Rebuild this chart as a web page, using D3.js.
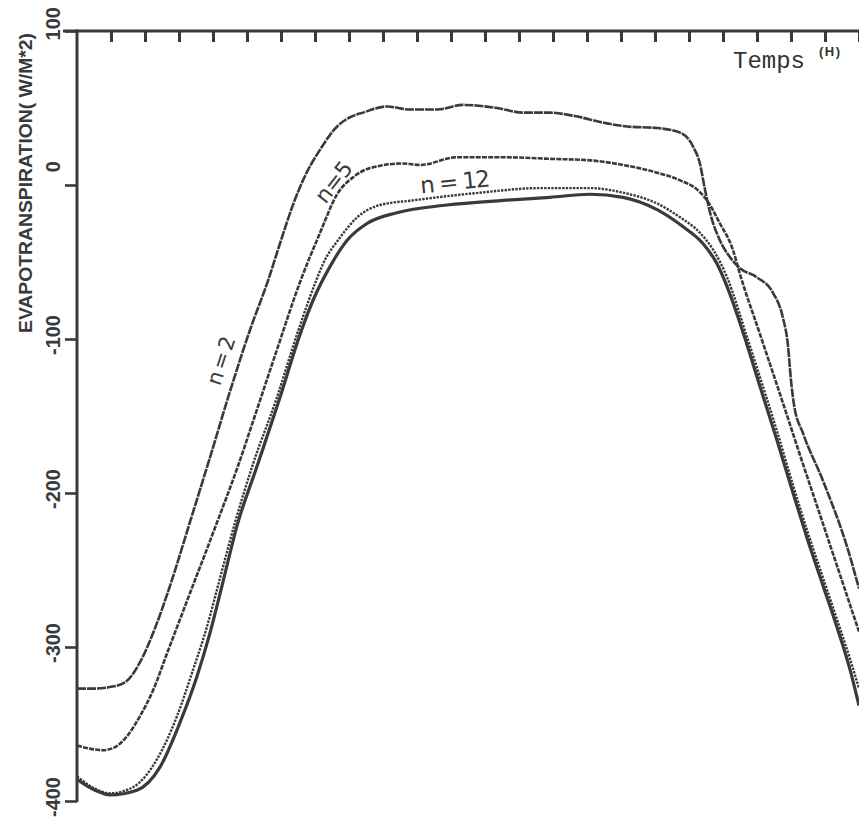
<!DOCTYPE html>
<html>
<head>
<meta charset="utf-8">
<script src="https://cdn.jsdelivr.net/npm/d3@7"></script>
<style>
  html, body { margin: 0; padding: 0; background: #ffffff; }
  svg { display: block; }
</style>
</head>
<body>
<svg id="chart" width="859" height="820"></svg>
<script>
// ---------------- DATA ----------------
const yTickValues = [100, 0, -100, -200, -300, -400];
const xTickValues = [1,2,3,4,5,6,7,8,9,10,11,12,13,14,15,16,17,18,19,20,21,22,23];
const yTitle = "EVAPOTRANSPIRATION( W/M*2)";
const xTitle = "Temps";
const xUnit = "(H)";

// n = 2
const n2Hours  = [0, 0.53, 0.97, 1.41, 1.85, 2.29, 2.74, 3.32, 3.91, 4.5, 5.09, 5.62, 5.97, 6.35, 6.71, 7.15, 7.65, 8.03, 8.41, 9.12, 9.79, 10.59, 11.35, 12.35, 13.12, 13.91, 14.59, 15.59, 16.18, 17.06, 17.74, 18.12, 18.32, 18.47, 18.62, 18.91, 19.21, 19.5, 20.0, 20.47, 20.76, 20.91, 21.0, 21.09, 21.35, 21.94, 22.65, 23.0];
const n2Values = [-327, -327, -326, -323, -310, -288, -260, -219, -177, -134, -94, -62, -38, -13, 6, 23, 38, 44, 47, 51, 49, 49, 52, 50, 47, 47, 45, 40, 38, 37, 34, 25, 14, -3, -18, -36, -47, -54, -60, -70, -86, -104, -127, -143, -161, -192, -235, -262];

// n = 5
const n5Hours  = [0, 0.38, 0.76, 1.12, 1.47, 1.85, 2.24, 2.65, 3.03, 3.41, 3.76, 4.12, 4.71, 5.29, 5.88, 6.56, 7.15, 7.65, 8.12, 8.62, 9.59, 10.09, 11.18, 12.53, 13.91, 15.09, 16.06, 17.06, 17.74, 18.24, 18.53, 18.91, 19.29, 19.5, 20.09, 20.68, 21.26, 21.85, 22.44, 23.0];
const n5Values = [-364, -366, -367, -365, -358, -345, -328, -304, -282, -260, -240, -219, -184, -146, -107, -63, -31, -6, 5, 11, 14, 13, 18, 18, 17, 16, 13, 8, 3, -3, -10, -25, -42, -58, -97, -136, -175, -214, -253, -290];

// n = 12
const n12Hours  = [0, 0.53, 0.97, 1.65, 2.35, 2.94, 3.41, 3.82, 4.21, 4.65, 5.18, 5.88, 6.47, 7.0, 7.24, 7.74, 8.24, 8.91, 9.88, 11.85, 13.62, 15.09, 16.06, 17.06, 17.74, 18.32, 18.71, 19.12, 19.71, 20.09, 20.59, 21.06, 21.47, 21.94, 22.35, 22.74, 23.0];
const n12Values = [-384, -392, -395, -391, -373, -345, -315, -287, -255, -219, -181, -138, -97, -64, -51, -34, -21, -13, -10, -5, -2, -2, -5, -12, -21, -31, -42, -60, -99, -125, -160, -195, -224, -255, -282, -308, -327];

// unlabelled reference curve (solid)
const refHours  = [0, 0.53, 0.97, 1.76, 2.44, 3.03, 3.53, 3.91, 4.29, 4.71, 5.29, 5.97, 6.56, 6.94, 7.44, 7.94, 8.53, 9.41, 10.88, 12.53, 13.91, 15.09, 16.06, 17.06, 17.82, 18.41, 18.82, 19.12, 19.71, 20.09, 20.59, 21.06, 21.47, 21.94, 22.35, 22.74, 23.0];
const refValues = [-386, -393, -396, -393, -378, -349, -319, -291, -258, -221, -183, -138, -97, -75, -53, -36, -25, -18, -13, -10, -8, -6, -8, -16, -27, -38, -51, -66, -104, -131, -166, -200, -229, -260, -287, -315, -338];

// curve labels (text and the data point where they sit)
const curveLabelTexts  = ["n=2", "n=5", "n = 12"];
const curveLabelHours  = [4.24, 7.55, 11.12];
const curveLabelValues = [-114, 2, 2];

// ---------------- CHART ----------------
const W = 859, H = 820;
const ink = "#3a3a3a";
const svg = d3.select("#chart");

const x = d3.scaleLinear().domain([0, 23]).range([77, 859]);
const y = d3.scaleLinear().domain([-400, 100]).range([801, 31]);

// curves
const line = d3.line()
  .x(d => x(d[0]))
  .y(d => y(d[1]))
  .curve(d3.curveMonotoneX);

const series = [
  { hours: n2Hours,  values: n2Values,  width: 2.6, dash: "9,1" },
  { hours: n5Hours,  values: n5Values,  width: 2.6, dash: "5,1.2" },
  { hours: n12Hours, values: n12Values, width: 2.4, dash: "2.4,1.2" },
  { hours: refHours, values: refValues, width: 3.2, dash: null }
];

const gLines = svg.append("g");
series.forEach(s => {
  gLines.append("path")
    .datum(d3.zip(s.hours, s.values))
    .attr("d", line)
    .attr("fill", "none")
    .attr("stroke", ink)
    .attr("stroke-width", s.width)
    .attr("stroke-linejoin", "round")
    .attr("stroke-dasharray", s.dash);
});

// x axis at top, ticks pointing down
const xAxis = d3.axisBottom(x).tickValues(xTickValues).tickSize(11).tickSizeOuter(0).tickFormat("");
const gx = svg.append("g").attr("transform", `translate(0,${y(100)})`).call(xAxis);
gx.select(".domain").remove();
gx.selectAll(".tick line").attr("stroke", ink).attr("stroke-width", 3);
svg.append("line")
  .attr("x1", 63).attr("x2", W)
  .attr("y1", y(100)).attr("y2", y(100))
  .attr("stroke", ink).attr("stroke-width", 3);

// y axis, ticks pointing left
const yAxis = d3.axisLeft(y).tickValues(yTickValues).tickSize(12).tickSizeOuter(0).tickFormat("");
const gy = svg.append("g").attr("transform", `translate(${x(0)},0)`).call(yAxis);
gy.select(".domain").remove();
gy.selectAll(".tick line").attr("stroke", ink).attr("stroke-width", 2.6);
svg.append("line")
  .attr("x1", x(0)).attr("x2", x(0))
  .attr("y1", y(100) - 1.5).attr("y2", y(-400) + 1)
  .attr("stroke", ink).attr("stroke-width", 3);

// y tick labels (rotated)
svg.append("g").selectAll("text")
  .data(yTickValues)
  .join("text")
  .attr("transform", d => `translate(60,${y(d) - 24}) rotate(-90)`)
  .attr("text-anchor", "end")
  .attr("font-family", "Liberation Sans, Arial, sans-serif")
  .attr("font-weight", "bold")
  .attr("font-size", 20)
  .attr("fill", ink)
  .text(d => String(d));

// y title
svg.append("text")
  .attr("transform", `translate(32,${183}) rotate(-90)`)
  .attr("text-anchor", "middle")
  .attr("font-family", "Liberation Sans, Arial, sans-serif")
  .attr("font-weight", "bold")
  .attr("font-size", 19)
  .attr("textLength", 300)
  .attr("lengthAdjust", "spacingAndGlyphs")
  .attr("fill", ink)
  .text(yTitle);

// x title
svg.append("text")
  .attr("x", 733).attr("y", 68)
  .attr("font-family", "Liberation Mono, Courier New, monospace")
  .attr("font-size", 24)
  .attr("fill", "#333")
  .text(xTitle);
svg.append("text")
  .attr("x", 819).attr("y", 56)
  .attr("font-family", "Liberation Sans, Arial, sans-serif")
  .attr("font-weight", "bold")
  .attr("font-size", 13)
  .attr("letter-spacing", 1.5)
  .attr("fill", "#333")
  .text(xUnit);

// curve labels
const labelStyle = [
  { angle: -72, size: 21, len: 50 },
  { angle: -52, size: 22, len: 46 },
  { angle: -6,  size: 23, len: 70 }
];
curveLabelTexts.forEach((t, i) => {
  const st = labelStyle[i];
  svg.append("text")
    .attr("transform", `translate(${x(curveLabelHours[i])},${y(curveLabelValues[i])}) rotate(${st.angle})`)
    .attr("text-anchor", "middle")
    .attr("dominant-baseline", "central")
    .attr("font-family", "DejaVu Sans, sans-serif")
    .attr("font-size", st.size)
    .attr("textLength", st.len)
    .attr("lengthAdjust", "spacing")
    .attr("fill", ink)
    .text(t);
});
</script>
</body>
</html>
